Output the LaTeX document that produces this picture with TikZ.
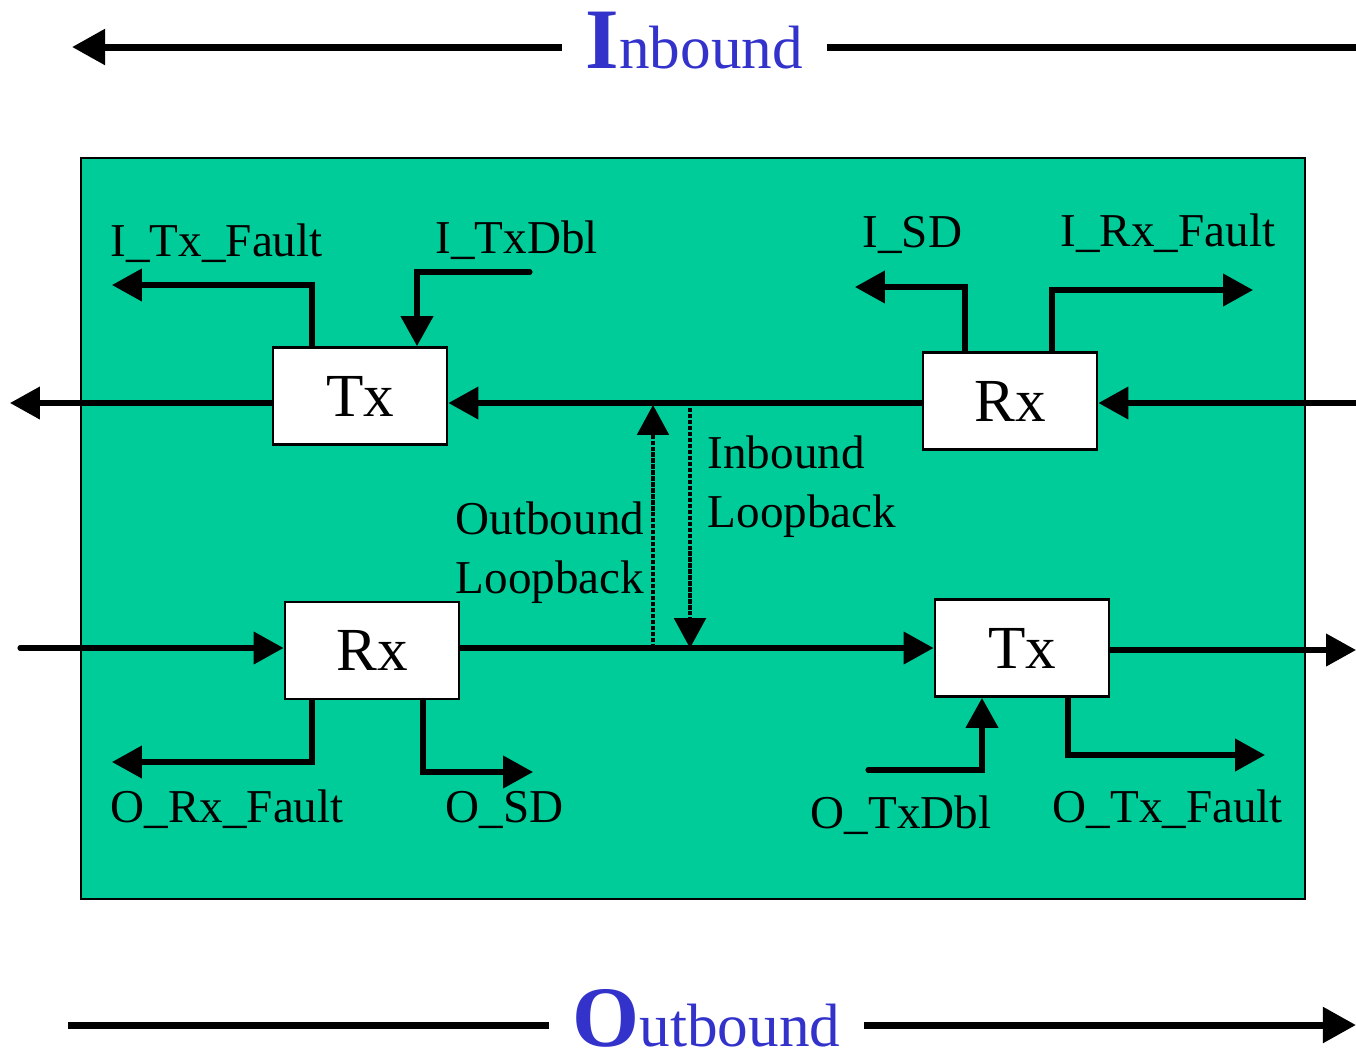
\documentclass[tikz,border=0pt]{standalone}
\usepackage{fontspec}
\setmainfont{Liberation Serif}
\usepackage{tikz}
\usetikzlibrary{arrows.meta,positioning,calc}
\definecolor{fondvert}{HTML}{00CC99}
\definecolor{titrebleu}{HTML}{3333CC}
\tikzset{
  bloc/.style={rectangle, draw=black, line width=0.8pt, fill=white,
               minimum width=1.74cm, minimum height=0.97cm, inner sep=0pt,
               font=\fontsize{17.4}{20}\selectfont},
  lbl/.style={inner sep=0pt, anchor=base west, align=left,
              font=\fontsize{13.4}{16.5}\selectfont},
  sig/.style={-{Triangle[length=8.5pt,width=9pt]}, line width=1.45pt, line cap=round},
  boucle/.style={-{Triangle[length=8.5pt,width=9pt]}, line width=0.9pt,
                 dash pattern=on 1.2pt off 0.5pt},
  flechetitre/.style={line width=2pt},
  titre/.style={inner ysep=0pt, inner xsep=0.23cm, anchor=base west, text=titrebleu},
}

\begin{document}
\begin{tikzpicture}[x=0.01cm, y=-0.01cm]
        \useasboundingbox (0,0) rectangle (1356,1056);
        % fond
        \draw[fill=fondvert, line width=0.8pt] (81,158) rectangle (1305,899);
        % titres
        \node[titre] (titreIn) at (562,68)
          {{\fontsize{24.5}{28}\selectfont\bfseries I}{\fontsize{17.4}{20}\selectfont nbound}};
        \node[titre] (titreOut) at (549,1046)
          {{\fontsize{24.5}{28}\selectfont\bfseries O}{\fontsize{17.4}{20}\selectfont utbound}};
        \coordinate (inG) at (72,47);
        \coordinate (inD) at (1356,47);
        \coordinate (outG) at (68,1025);
        \coordinate (outD) at (1356,1025);
        \draw[flechetitre, -{Triangle[length=9.4pt,width=9.8pt]}] (titreIn.west |- inG) -- (inG);
        \draw[flechetitre] (titreIn.east |- inD) -- (inD);
        \draw[flechetitre] (titreOut.west |- outG) -- (outG);
        \draw[flechetitre, -{Triangle[length=9.4pt,width=9.8pt]}] (titreOut.east |- outD) -- (outD);
        % blocs
        \node[bloc] (txi) at (360,396) {Tx};
        \node[bloc] (rxi) at (1010,401) {Rx};
        \node[bloc] (rxo) at (372,650.5) {Rx};
        \node[bloc] (txo) at (1022,648) {Tx};
        % voie inbound
        \coordinate (inEntree) at (1356,403);
        \coordinate (inSortie) at (10,403);
        \draw[sig] (inEntree) -- (rxi.east |- inEntree);
        \draw[sig] (rxi.west |- inEntree) -- (txi.east |- inEntree);
        \draw[sig] (txi.west |- inEntree) -- (inSortie);
        % voie outbound
        \coordinate (outEntree) at (20,648);
        \coordinate (outSortie) at (1356,650);
        \draw[sig] (outEntree) -- (rxo.west |- outEntree);
        \draw[sig] (rxo.east |- outEntree) -- (txo.west |- outEntree);
        \draw[sig] (txo.east |- outSortie) -- (outSortie);
        % boucles
        \coordinate (oBas) at (653,648);
        \coordinate (oHaut) at (653,405);
        \coordinate (iHaut) at (690,408);
        \coordinate (iBas) at (690,648);
        \draw[boucle] (oBas) -- (oHaut);
        \draw[boucle] (iHaut) -- (iBas);
        \node[lbl] (lbOut) at (455,593) {Outbound\\Loopback};
        \node[lbl] (lbIn) at (707,527) {Inbound\\Loopback};
        % signaux d'etat
        \coordinate (itxf) at (112,285);
        \coordinate (itxd) at (530,272);
        \coordinate (isd) at (855,287);
        \coordinate (irxf) at (1253,290);
        \coordinate (orxf) at (112,762);
        \coordinate (osd) at (533,772);
        \coordinate (otxd) at (868,770);
        \coordinate (otxf) at (1265,755);
        \draw[sig] ($(txi.north)+(-48,0)$) |- (itxf);
        \draw[sig] (itxd) -| ($(txi.north)+(57,0)$);
        \draw[sig] ($(rxi.north)+(-45,0)$) |- (isd);
        \draw[sig] ($(rxi.north)+(42,0)$) |- (irxf);
        \draw[sig] ($(rxo.south)+(-60,0)$) |- (orxf);
        \draw[sig] ($(rxo.south)+(51,0)$) |- (osd);
        \draw[sig] (otxd) -| ($(txo.south)+(-40,0)$);
        \draw[sig] ($(txo.south)+(46,0)$) |- (otxf);
        \node[lbl] (lItxf) at (110,256) {I\_Tx\_Fault};
        \node[lbl] (lItxd) at (435,253) {I\_TxDbl};
        \node[lbl] (lIsd) at (862,247) {I\_SD};
        \node[lbl] (lIrxf) at (1060,246) {I\_Rx\_Fault};
        \node[lbl] (lOrxf) at (110,822) {O\_Rx\_Fault};
        \node[lbl] (lOsd) at (445,822) {O\_SD};
        \node[lbl] (lOtxd) at (810,828) {O\_TxDbl};
        \node[lbl] (lOtxf) at (1052,822) {O\_Tx\_Fault};
      \end{tikzpicture}
\end{document}
